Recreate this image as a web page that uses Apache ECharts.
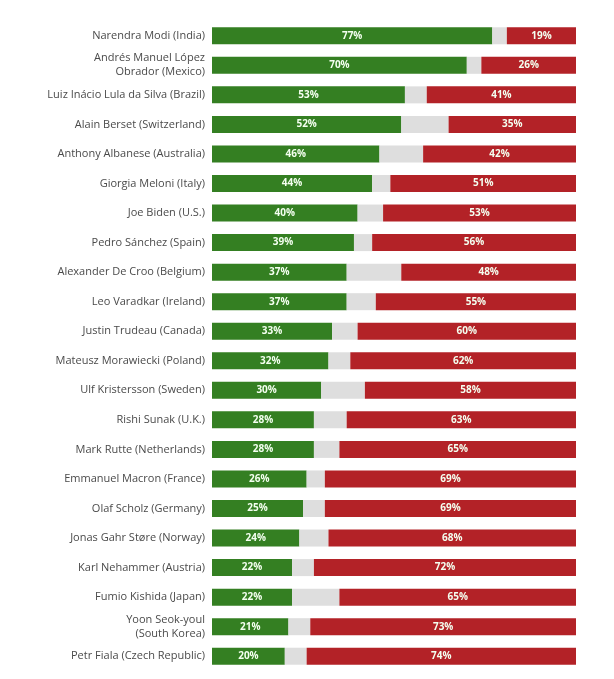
<!DOCTYPE html>
<html><head><meta charset="utf-8">
<script src="https://cdn.jsdelivr.net/npm/echarts@6/dist/echarts.min.js"></script>
<style>html,body{margin:0;padding:0;background:#fff}#c{width:614px;height:679px}</style>
</head><body><div id="c"></div>
<script>
const leaders = ["Narendra Modi (India)","Andrés Manuel López\nObrador (Mexico)","Luiz Inácio Lula da Silva (Brazil)","Alain Berset (Switzerland)","Anthony Albanese (Australia)","Giorgia Meloni (Italy)","Joe Biden (U.S.)","Pedro Sánchez (Spain)","Alexander De Croo (Belgium)","Leo Varadkar (Ireland)","Justin Trudeau (Canada)","Mateusz Morawiecki (Poland)","Ulf Kristersson (Sweden)","Rishi Sunak (U.K.)","Mark Rutte (Netherlands)","Emmanuel Macron (France)","Olaf Scholz (Germany)","Jonas Gahr Støre (Norway)","Karl Nehammer (Austria)","Fumio Kishida (Japan)","Yoon Seok-youl\n(South Korea)","Petr Fiala (Czech Republic)"];
const approve = [77,70,53,52,46,44,40,39,37,37,33,32,30,28,28,26,25,24,22,22,21,20];
const disapprove = [19,26,41,35,42,51,53,56,48,55,60,62,58,63,65,69,69,68,72,65,73,74];
const gap = approve.map((a,i)=>100-a-disapprove[i]);

const lbl = {show:true, position:'inside', color:'#f4fff0', fontWeight:'bold', fontSize:10, fontFamily:'Open Sans', formatter: p=>p.value+'%'};
const chart = echarts.init(document.getElementById('c'));
chart.setOption({
  animation:false,
  grid:{left:212, right:38, top:21, bottom:8},
  xAxis:{type:'value', min:0, max:100, show:false},
  yAxis:{type:'category', data:leaders, inverse:true,
    axisLine:{show:false}, axisTick:{show:false},
    axisLabel:{color:'#4a4a4a', fontSize:11, fontFamily:'Open Sans', margin:7, lineHeight:14, align:'right'}},
  series:[
    {name:'Approve', type:'bar', stack:'t', data:approve, barWidth:17, itemStyle:{color:'#347f22'}, label:lbl},
    {name:'Gap', type:'bar', stack:'t', data:gap, barWidth:17, itemStyle:{color:'#dedede'}, label:{show:false}},
    {name:'Disapprove', type:'bar', stack:'t', data:disapprove, barWidth:17, itemStyle:{color:'#b32227'}, label:lbl}
  ]
});
</script></body></html>
